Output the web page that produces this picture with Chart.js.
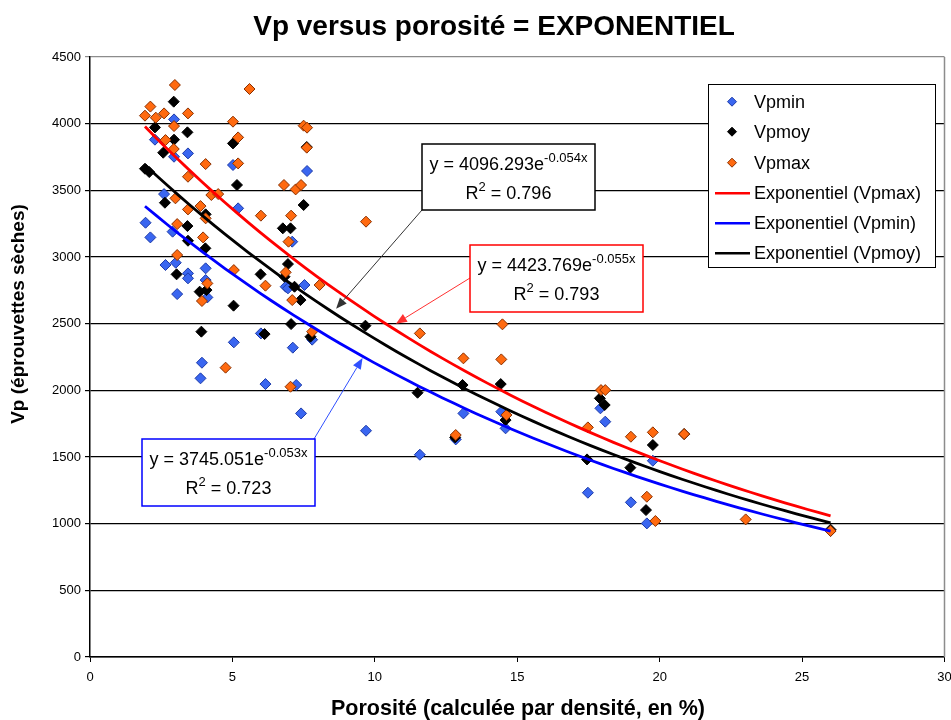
<!DOCTYPE html>
<html><head><meta charset="utf-8">
<script src="https://cdn.jsdelivr.net/npm/chart.js@4.4.0/dist/chart.umd.min.js"></script>
<style>html,body{margin:0;padding:0;background:#fff;overflow:hidden}</style>
</head><body>
<canvas id="c" width="951" height="720"></canvas>
<script>
// ---- data ----
const vpminPorosity = [1.95,2.12,2.28,2.60,2.65,2.90,2.95,2.95,3.01,3.06,3.44,3.44,3.44,3.88,3.93,4.06,4.06,4.12,5.02,5.05,5.20,6.00,6.16,6.87,6.95,7.10,7.12,7.24,7.41,7.53,7.62,7.80,9.69,11.58,12.84,13.11,14.44,14.59,17.48,17.92,18.09,18.99,19.55,19.76,26.00];
const vpminValues   = [3257,3147,3880,3472,2940,3190,4032,3752,2957,2722,3777,2877,2840,2090,2207,2915,2827,2697,3690,2360,3365,2427,2047,2777,2765,3115,2320,2040,1827,2790,3645,2380,1697,1517,1632,1827,1840,1715,1232,1865,1765,1160,1002,1472,945];

const vpmoyPorosity = [1.93,2.08,2.28,2.57,2.63,2.94,2.95,3.04,3.42,3.42,3.44,3.85,3.91,4.05,4.06,4.09,5.02,5.04,5.16,5.99,6.13,6.77,6.83,6.95,7.04,7.06,7.18,7.39,7.50,7.61,7.74,9.67,11.50,12.82,13.08,14.42,14.59,17.45,17.90,18.07,18.97,19.52,19.76,20.86,26.00];
const vpmoyValues   = [3662,3637,3972,3782,3407,4165,3880,2870,3935,3232,3122,2740,2440,3065,3320,2752,3852,2635,3540,2870,2422,3215,2852,2947,3215,2497,2777,2677,3390,3825,2402,2485,1982,1647,2040,2047,1777,1482,1940,1890,1420,1102,1590,1672,955];

const vpmaxPorosity = [1.93,2.12,2.31,2.60,2.65,2.94,2.95,2.98,3.00,3.06,3.06,3.44,3.44,3.44,3.88,3.93,3.97,4.06,4.06,4.12,4.26,4.50,4.76,5.02,5.05,5.20,5.20,5.60,6.00,6.16,6.81,6.87,6.97,7.04,7.06,7.10,7.22,7.41,7.50,7.61,7.62,7.80,8.06,9.69,11.58,12.84,13.11,14.44,14.48,14.62,17.48,17.94,18.09,18.99,19.55,19.76,19.85,20.86,23.02,26.00];
const vpmaxValues   = [4060,4128,4045,4077,3877,3810,3982,4290,3440,3247,3015,4077,3602,3357,3382,2670,3147,3697,3290,2802,3465,3472,2170,4015,2902,3897,3702,4260,3310,2785,3540,2885,3115,2027,3310,2677,3507,3540,3985,3820,3970,2440,2790,3265,2427,1665,2240,2232,2495,1815,1722,2002,2002,1652,1202,1685,1020,1672,1032,945];

// trendlines as printed on the chart: y = A e^(k x)
const trendNames = ['Exponentiel (Vpmax)','Exponentiel (Vpmin)','Exponentiel (Vpmoy)'];
const trendA  = [4423.769, 3745.051, 4096.293];
const trendK  = [-0.055, -0.053, -0.054];
const trendR2 = [0.793, 0.723, 0.796];
const trendXRange = [1.93, 26.0];

const xTickValues = [0,5,10,15,20,25,30];
const yTickValues = [0,500,1000,1500,2000,2500,3000,3500,4000,4500];

const titleText = 'Vp versus porosité = EXPONENTIEL';
const xTitle = 'Porosité (calculée par densité, en %)';
const yTitle = 'Vp (éprouvettes sèches)';
const seriesNames = ['Vpmin','Vpmoy','Vpmax'];

// ---- build ----
const FONT = '"Liberation Sans", Arial, sans-serif';
const pts = (xs, ys) => xs.map((x, i) => ({x: x, y: ys[i]}));
function trendPoints(i) {
  const out = [];
  const n = 60;
  for (let j = 0; j <= n; j++) {
    const x = trendXRange[0] + (trendXRange[1] - trendXRange[0]) * j / n;
    out.push({x: x, y: trendA[i] * Math.exp(trendK[i] * x)});
  }
  return out;
}

const COL = {
  minFill:'#3a66f0', minBorder:'#1c3aa8',
  moyFill:'#000000', moyBorder:'#000000',
  maxFill:'#ff6a10', maxBorder:'#8a3000',
  red:'#ff0000', blue:'#0000ff', black:'#000000'
};

function drawArrow(ctx, x1, y1, x2, y2, color) {
  ctx.save();
  ctx.strokeStyle = color; ctx.fillStyle = color; ctx.lineWidth = 1;
  const a = Math.atan2(y2 - y1, x2 - x1), L = 11, w = 4.5;
  const bx = x2 - L * Math.cos(a), by = y2 - L * Math.sin(a);
  ctx.beginPath(); ctx.moveTo(x1, y1); ctx.lineTo(bx, by); ctx.stroke();
  ctx.beginPath(); ctx.moveTo(x2, y2);
  ctx.lineTo(bx - w * Math.sin(a), by + w * Math.cos(a));
  ctx.lineTo(bx + w * Math.sin(a), by - w * Math.cos(a));
  ctx.closePath(); ctx.fill();
  ctx.restore();
}

function drawEqBox(ctx, b, i, color) {
  ctx.save();
  ctx.fillStyle = '#fff'; ctx.fillRect(b.x, b.y, b.w, b.h);
  ctx.strokeStyle = color; ctx.lineWidth = 1.5; ctx.strokeRect(b.x, b.y, b.w, b.h);
  const big = '18px ' + FONT, small = '13px ' + FONT;
  const cx = b.x + b.w / 2;
  ctx.fillStyle = '#000'; ctx.textAlign = 'left'; ctx.textBaseline = 'alphabetic';
  const main = 'y = ' + trendA[i].toFixed(3) + 'e';
  const sup = trendK[i].toFixed(3) + 'x';
  ctx.font = big; const w1 = ctx.measureText(main).width;
  ctx.font = small; const w2 = ctx.measureText(sup).width;
  let sx = cx - (w1 + w2) / 2;
  ctx.font = big; ctx.fillText(main, sx, b.y + 26);
  ctx.font = small; ctx.fillText(sup, sx + w1, b.y + 18);
  const r = 'R', two = '2', rest = ' = ' + trendR2[i].toFixed(3);
  ctx.font = big; const wr = ctx.measureText(r).width, wrest = ctx.measureText(rest).width;
  ctx.font = small; const wt = ctx.measureText(two).width;
  sx = cx - (wr + wt + wrest) / 2;
  ctx.font = big; ctx.fillText(r, sx, b.y + 55);
  ctx.font = small; ctx.fillText(two, sx + wr, b.y + 47);
  ctx.font = big; ctx.fillText(rest, sx + wr + wt, b.y + 55);
  ctx.restore();
}

function diamond(ctx, x, y, r, fill, stroke) {
  ctx.beginPath();
  ctx.moveTo(x - r, y); ctx.lineTo(x, y - r); ctx.lineTo(x + r, y); ctx.lineTo(x, y + r); ctx.closePath();
  ctx.fillStyle = fill; ctx.fill();
  ctx.strokeStyle = stroke; ctx.lineWidth = 1; ctx.stroke();
}

const decor = {
  id: 'decor',
  afterDraw(chart) {
    const ctx = chart.ctx, ca = chart.chartArea, xs = chart.scales.x, ys = chart.scales.y;
    ctx.save();
    // right plot border
    ctx.strokeStyle = '#8c8c8c'; ctx.lineWidth = 1.5;
    ctx.beginPath(); ctx.moveTo(ca.right, ca.top); ctx.lineTo(ca.right, ca.bottom); ctx.stroke();

    // title
    ctx.fillStyle = '#000'; ctx.textAlign = 'center'; ctx.textBaseline = 'alphabetic';
    ctx.font = 'bold 28px ' + FONT;
    ctx.fillText(titleText, 494, 35);
    // x title
    ctx.font = 'bold 21.5px ' + FONT;
    ctx.fillText(xTitle, 518, 715);
    // y title
    ctx.font = 'bold 19px ' + FONT;
    ctx.save(); ctx.translate(24, 314); ctx.rotate(-Math.PI / 2);
    ctx.fillText(yTitle, 0, 0); ctx.restore();

    // equation boxes and arrows (arrow tips on the trendlines)
    const tip = (x, y) => [xs.getPixelForValue(x), ys.getPixelForValue(y)];
    let t = tip(8.64, 2612); drawArrow(ctx, 422, 210, t[0], t[1], '#333333');
    t = tip(10.74, 2500);    drawArrow(ctx, 470, 278, t[0], t[1], '#ff3030');
    t = tip(9.57, 2242);     drawArrow(ctx, 314, 439, t[0], t[1], '#3050ff');
    drawEqBox(ctx, {x:422, y:144, w:173, h:66}, 2, '#000');
    drawEqBox(ctx, {x:470, y:245, w:173, h:67}, 0, '#ff0000');
    drawEqBox(ctx, {x:142, y:439, w:173, h:67}, 1, '#0000ff');

    // legend
    ctx.fillStyle = '#fff'; ctx.fillRect(708, 84, 227, 183);
    ctx.strokeStyle = '#000'; ctx.lineWidth = 1; ctx.strokeRect(708.5, 84.5, 227, 183);
    const rows = [101.7, 131.7, 162.7, 193.3, 223.3, 253.3];
    const labels = [seriesNames[0], seriesNames[1], seriesNames[2], trendNames[0], trendNames[1], trendNames[2]];
    diamond(ctx, 732, rows[0], 4.5, COL.minFill, COL.minBorder);
    diamond(ctx, 732, rows[1], 4.5, COL.moyFill, COL.moyBorder);
    diamond(ctx, 732, rows[2], 4.5, COL.maxFill, COL.maxBorder);
    const lc = [COL.red, COL.blue, COL.black];
    for (let i = 0; i < 3; i++) {
      ctx.strokeStyle = lc[i]; ctx.lineWidth = 2.5;
      ctx.beginPath(); ctx.moveTo(715, rows[3 + i]); ctx.lineTo(750, rows[3 + i]); ctx.stroke();
    }
    ctx.fillStyle = '#000'; ctx.textAlign = 'left'; ctx.textBaseline = 'middle';
    ctx.font = '18px ' + FONT;
    labels.forEach((l, i) => ctx.fillText(l, 754, rows[i] + 1));
    ctx.restore();
  }
};

const scatterBase = {pointStyle:'rectRot', pointRadius:5.5, pointHoverRadius:5.5, borderWidth:1, showLine:false};
new Chart(document.getElementById('c'), {
  type: 'scatter',
  data: {
    datasets: [
      Object.assign({label: seriesNames[0], data: pts(vpminPorosity, vpminValues), backgroundColor: COL.minFill, borderColor: COL.minBorder, order: 3}, scatterBase),
      Object.assign({label: seriesNames[1], data: pts(vpmoyPorosity, vpmoyValues), backgroundColor: COL.moyFill, borderColor: COL.moyBorder, order: 2}, scatterBase),
      Object.assign({label: seriesNames[2], data: pts(vpmaxPorosity, vpmaxValues), backgroundColor: COL.maxFill, borderColor: COL.maxBorder, order: 1}, scatterBase),
      {type:'line', label: trendNames[0], data: trendPoints(0), borderColor: COL.red, borderWidth: 2.8, pointRadius: 0, fill: false, tension: 0, order: 0},
      {type:'line', label: trendNames[1], data: trendPoints(1), borderColor: COL.blue, borderWidth: 2.8, pointRadius: 0, fill: false, tension: 0, order: 0},
      {type:'line', label: trendNames[2], data: trendPoints(2), borderColor: COL.black, borderWidth: 2.8, pointRadius: 0, fill: false, tension: 0, order: 0}
    ]
  },
  options: {
    responsive: false, animation: false, devicePixelRatio: 1,
    layout: {padding: {left: 0, right: 0, top: 57, bottom: 0}},
    plugins: {legend: {display: false}, tooltip: {enabled: false}, title: {display: false}},
    scales: {
      x: {
        type: 'linear', min: 0, max: 30,
        afterBuildTicks(s) { s.ticks = xTickValues.map(v => ({value: v})); },
        ticks: {color: '#000', font: {family: FONT, size: 13}, padding: 8, maxRotation: 0, autoSkip: false, callback: v => String(v)},
        grid: {drawOnChartArea: false, drawTicks: true, tickLength: 5, color: '#000'},
        border: {color: '#000', width: 1.5},
        afterFit(s) { s.height = 63; s.paddingLeft = 0; s.paddingRight = 0; }
      },
      y: {
        type: 'linear', min: 0, max: 4500,
        afterBuildTicks(s) { s.ticks = yTickValues.map(v => ({value: v})); },
        ticks: {color: '#000', font: {family: FONT, size: 13}, padding: 4, autoSkip: false, callback: v => String(v)},
        grid: {color: c => (c.tick && c.tick.value === 4500) ? '#8c8c8c' : '#000', lineWidth: 1.2, tickLength: 5},
        border: {color: '#000', width: 1.5},
        afterFit(s) { s.width = 90; s.paddingTop = 0; s.paddingBottom = 0; }
      }
    }
  },
  plugins: [decor]
});
</script>
</body></html>
